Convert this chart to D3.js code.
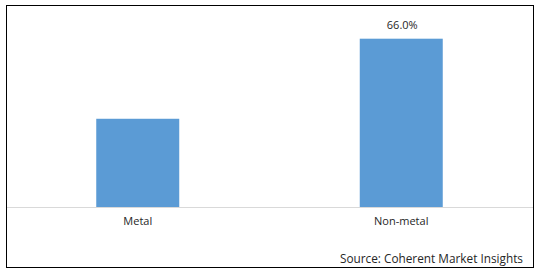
<!DOCTYPE html>
<html>
<head>
<meta charset="utf-8">
<script src="https://cdn.jsdelivr.net/npm/d3@7"></script>
<style>
  html, body { margin: 0; padding: 0; background: #fff; }
  svg { display: block; }
  text { font-family: "Open Sans", "Liberation Sans", sans-serif; fill: #262626; }
</style>
</head>
<body>
<svg id="chart" width="538" height="272"></svg>
<script>
const categories = ["Metal", "Non-metal"];
const values = [34.6, 66.0];
const valueLabels = [null, "66.0%"];
const sourceText = "Source: Coherent Market Insights";

const svg = d3.select("#chart");

// outer border
svg.append("rect")
  .attr("x", 6.5).attr("y", 5.5)
  .attr("width", 527).attr("height", 262)
  .attr("fill", "none").attr("stroke", "#000").attr("stroke-width", 1);

const x = d3.scaleBand()
  .domain(categories)
  .range([6, 533])
  .paddingInner(0.685)
  .paddingOuter(0.3425);

const y = d3.scaleLinear()
  .domain([0, 70])
  .range([207, 28.5]);

// bars
svg.append("g").selectAll("rect")
  .data(categories)
  .join("rect")
  .attr("x", d => x(d))
  .attr("y", (d, i) => y(values[i]))
  .attr("width", x.bandwidth())
  .attr("height", (d, i) => y(0) - y(values[i]))
  .attr("fill", "#5b9bd5");

// baseline axis
const axis = d3.axisBottom(x).tickSize(0).tickPadding(10);
const gx = svg.append("g")
  .attr("transform", `translate(0,${y(0) + 0.5})`)
  .call(axis);
gx.select(".domain").attr("stroke", "#d9d9d9").attr("d", "M7,0H533");
gx.selectAll(".tick text")
  .attr("font-size", 11)
  .attr("font-family", "\"Open Sans\", \"Liberation Sans\", sans-serif")
  .attr("fill", "#262626");

// value labels
svg.append("g").selectAll("text")
  .data(categories)
  .join("text")
  .attr("x", d => x(d) + x.bandwidth() / 2 + 1)
  .attr("y", (d, i) => y(values[i]) - 9.5)
  .attr("text-anchor", "middle")
  .attr("font-size", 11)
  .text((d, i) => valueLabels[i] || "");

// source
svg.append("text")
  .attr("x", 523)
  .attr("y", 263)
  .attr("text-anchor", "end")
  .attr("font-size", 11.8)
  .text(sourceText);
</script>
</body>
</html>
